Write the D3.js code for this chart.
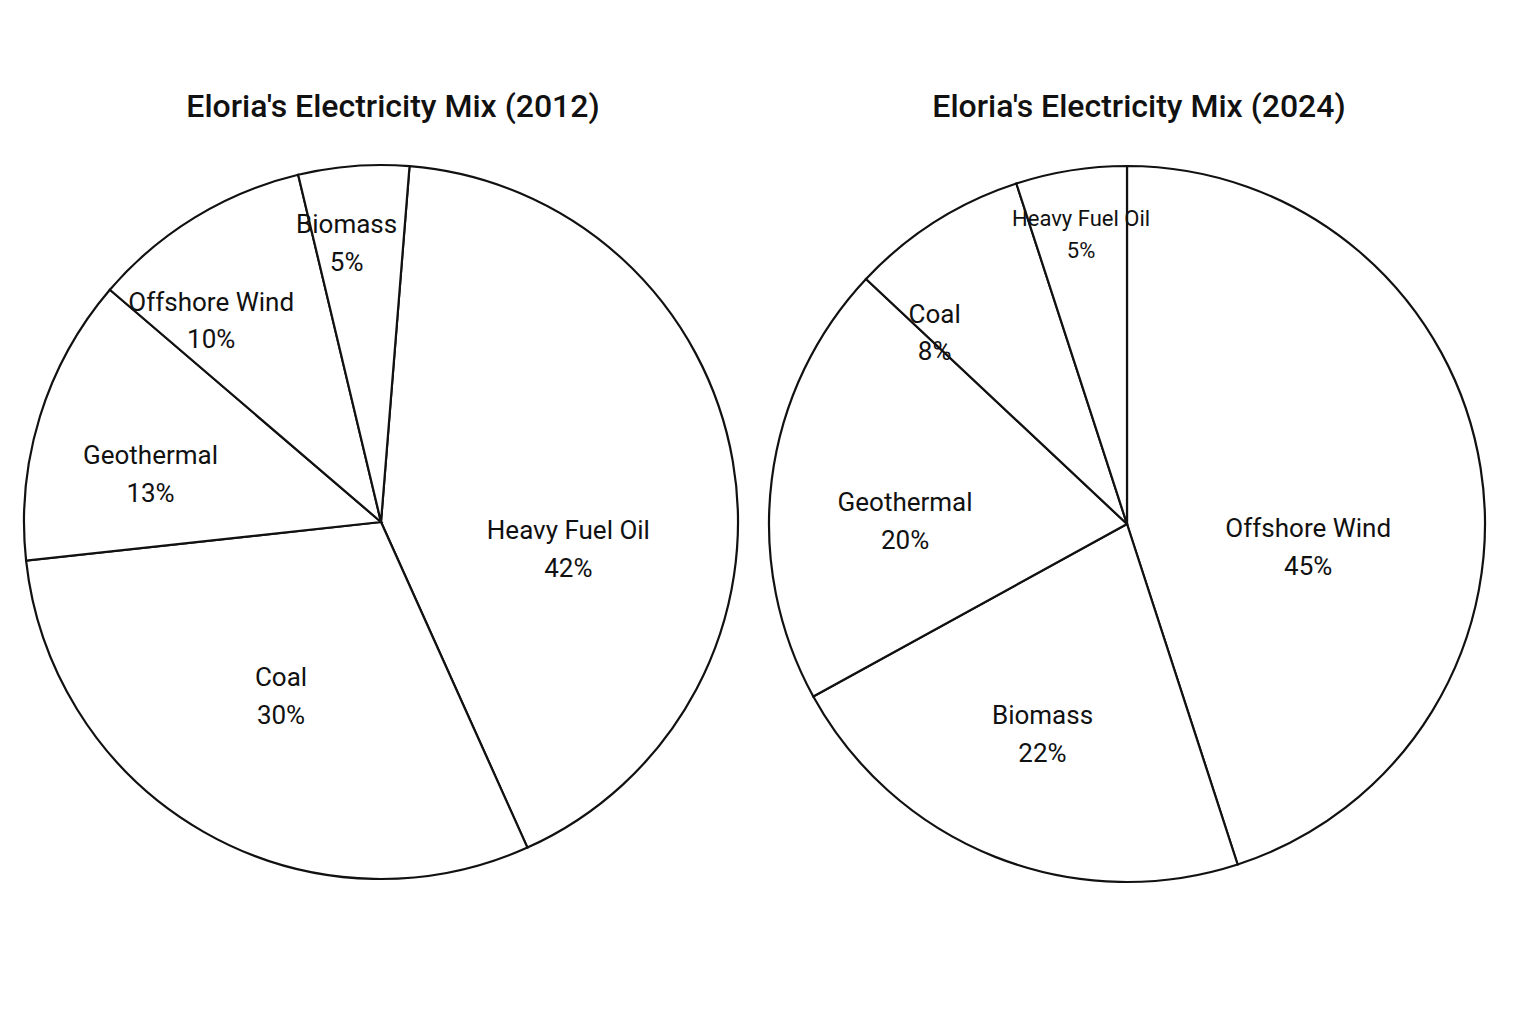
<!DOCTYPE html>
<html><head><meta charset="utf-8">
<script src="https://cdn.jsdelivr.net/npm/d3@7"></script>
<style>body{margin:0;background:#fff}</style>
</head><body>
<svg id="c" width="1536" height="1024"></svg>
<script>
const sources2012 = ["Heavy Fuel Oil", "Coal", "Geothermal", "Offshore Wind", "Biomass"];
const shares2012 = [42, 30, 13, 10, 5];
const sources2024 = ["Offshore Wind", "Biomass", "Geothermal", "Coal", "Heavy Fuel Oil"];
const shares2024 = [45, 22, 20, 8, 5];
const titles = ["Eloria's Electricity Mix (2012)", "Eloria's Electricity Mix (2024)"];

// label placement: [radius fraction, angle in degrees or null for slice middle, font size]
const labelPos2012 = [[0.53, 98, 26], [0.56, 210, 26], [0.66, 282, 26], [0.74, 320, 26], [0.79, 353, 26]];
const labelPos2024 = [[0.51, 97, 26], [0.63, 202, 26], [0.62, 271, 26], [0.76, 315, 26], [0.82, null, 22]];

const svg = d3.select("#c");
const font = "'Roboto', sans-serif";

function drawPie(cx, cy, r, names, vals, pos, title, start) {
  const g = svg.append("g").attr("transform", `translate(${cx},${cy})`);
  const pie = d3.pie().sort(null).startAngle(start).endAngle(start + 2 * Math.PI);
  const arcs = pie(vals);
  const arc = d3.arc().innerRadius(0).outerRadius(r);
  g.selectAll("path").data(arcs).join("path")
    .attr("d", arc).attr("fill", "#fff").attr("stroke", "#111").attr("stroke-width", 2.2);
  const t = g.selectAll("text.l").data(arcs).join("text")
    .attr("text-anchor", "middle").attr("font-family", font).attr("fill", "#111")
    .attr("font-size", (d, i) => pos[i][2])
    .attr("transform", (d, i) => {
      const a = pos[i][1] === null ? (d.startAngle + d.endAngle) / 2 : pos[i][1] * Math.PI / 180;
      const k = pos[i][0] * r;
      return `translate(${Math.sin(a) * k},${-Math.cos(a) * k})`;
    });
  t.append("tspan").attr("x", 0).attr("dy", "-0.35em").text((d, i) => names[i]);
  t.append("tspan").attr("x", 0).attr("dy", "1.45em").text(d => d.data + "%");
  svg.append("text").attr("x", cx + 12).attr("y", 117).attr("text-anchor", "middle")
    .attr("font-family", font).attr("font-weight", 500).attr("font-size", 32)
    .attr("fill", "#111").text(title);
}
drawPie(381, 522, 357, sources2012, shares2012, labelPos2012, titles[0], 0.08);
drawPie(1127, 524, 358, sources2024, shares2024, labelPos2024, titles[1], 0.0);
</script>
</body></html>
